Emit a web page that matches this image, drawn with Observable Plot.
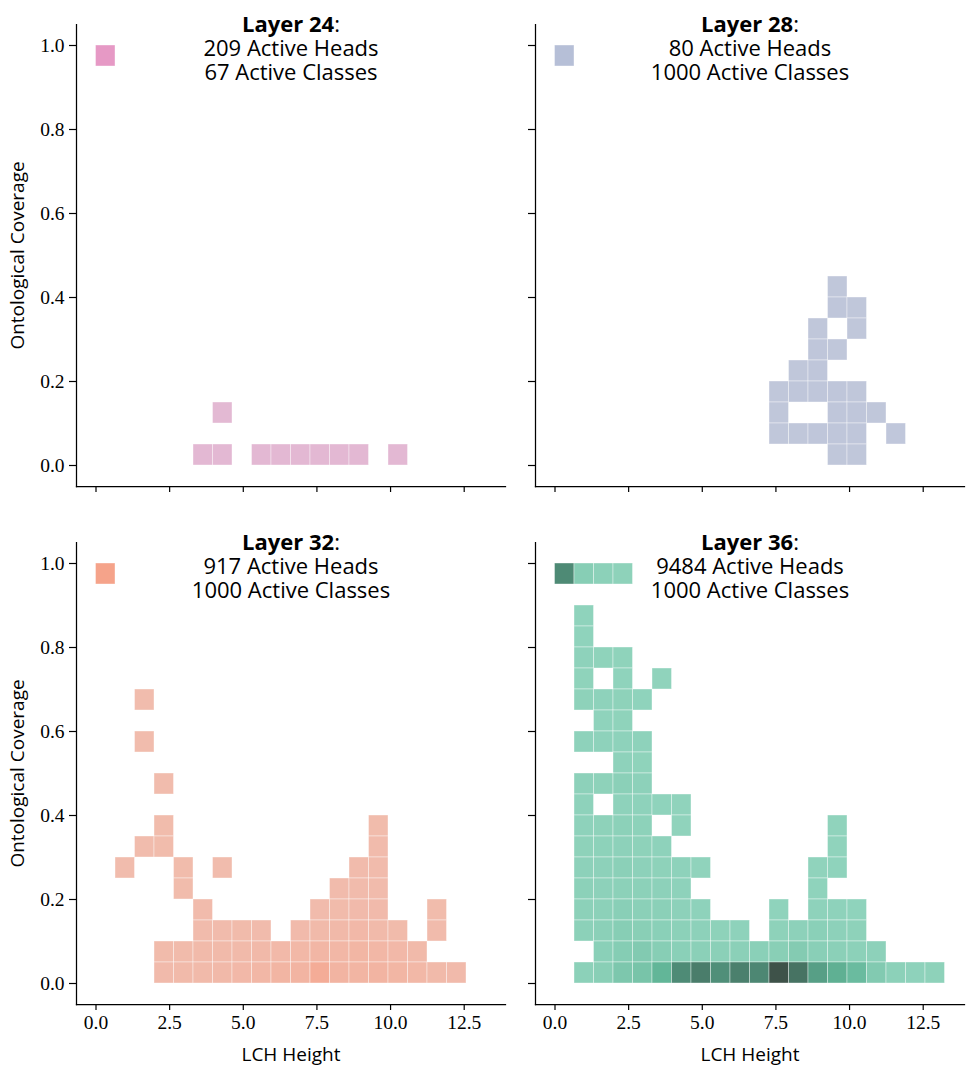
<!DOCTYPE html>
<html><head><meta charset="utf-8">
<script src="https://cdn.jsdelivr.net/npm/d3@7"></script>
<script src="https://cdn.jsdelivr.net/npm/@observablehq/plot@0.6"></script>
<style>
body{margin:0;background:#fff;}
#fig{position:relative;width:969px;height:1071px;background:#fff;overflow:hidden;}
.panel{position:absolute;}
.panel svg{overflow:visible;background:none;}
g[aria-label="x-axis tick label"] text, g[aria-label="y-axis tick label"] text{font-family:"Liberation Serif",serif;font-size:19.5px;fill:#000;}
g[aria-label="x-axis label"] text, g[aria-label="y-axis label"] text{font-family:"Open Sans",sans-serif;font-size:19px;fill:#000;}
g[aria-label="x-axis tick"], g[aria-label="y-axis tick"]{stroke:#000;stroke-width:1.2px;}
</style>
</head><body><div id="fig"></div>
<script>
// ---- data ----
const BIN_W = 0.662;   // LCH height bin width
const BIN_H = 0.05;    // coverage bin height
const layers = [24, 28, 32, 36];
const activeHeads = [209, 80, 917, 9484];
const activeClasses = [67, 1000, 1000, 1000];
const xTicks = [0, 2.5, 5, 7.5, 10, 12.5];
const yTicks = [0, 0.2, 0.4, 0.6, 0.8, 1.0];
const xLabel = "LCH Height";
const yLabel = "Ontological Coverage";

// cells: [height bin index, coverage bin index, head count]
const cells24 = [[0,19,172],[5,0,3],[6,0,4],[6,2,2],[8,0,3],[9,0,4],[10,0,4],[11,0,5],[12,0,4],[13,0,5],[15,0,3]];

const cells28 = [[0,19,15],
 [14,8,2],
 [14,7,3],[15,7,2],
 [13,6,2],[15,6,2],
 [13,5,3],[14,5,2],
 [12,4,2],[13,4,3],
 [11,3,2],[12,3,3],[13,3,3],[14,3,3],[15,3,2],
 [11,2,2],[14,2,3],[15,2,3],[16,2,2],
 [11,1,2],[12,1,2],[13,1,3],[14,1,3],[15,1,3],[17,1,1],
 [14,0,2],[15,0,2]];

const cells32 = [[0,19,125],
 [2,13,1],[2,11,1],[3,9,1],
 [3,7,2],[14,7,2],
 [2,6,1],[3,6,2],[14,6,3],
 [1,5,1],[4,5,2],[6,5,1],[13,5,3],[14,5,4],
 [4,4,2],[12,4,4],[13,4,5],[14,4,5],
 [5,3,3],[11,3,5],[12,3,6],[13,3,8],[14,3,8],[17,3,2],
 [5,2,4],[6,2,5],[7,2,6],[8,2,4],[10,2,8],[11,2,12],[12,2,14],[13,2,18],[14,2,12],[15,2,6],[17,2,3],
 [3,1,6],[4,1,7],[5,1,9],[6,1,10],[7,1,12],[8,1,14],[9,1,16],[10,1,22],[11,1,30],[12,1,24],[13,1,32],[14,1,26],[15,1,18],[16,1,12],
 [3,0,8],[4,0,10],[5,0,12],[6,0,14],[7,0,18],[8,0,26],[9,0,34],[10,0,40],[11,0,80],[12,0,40],[13,0,34],[14,0,40],[15,0,32],[16,0,22],[17,0,10],[18,0,8]];

const cells36 = [[0,19,700],[1,19,60],[2,19,30],[3,19,20],
 [1,17,10],[1,16,10],
 [1,15,15],[2,15,12],[3,15,12],
 [1,14,12],[3,14,10],[5,14,5],
 [1,13,20],[2,13,15],[3,13,20],[4,13,10],
 [2,12,10],[3,12,12],
 [1,11,15],[2,11,15],[3,11,18],[4,11,15],
 [3,10,15],[4,10,12],
 [1,9,25],[2,9,20],[3,9,35],[4,9,25],
 [1,8,15],[3,8,18],[4,8,15],[5,8,10],[6,8,8],
 [1,7,18],[2,7,20],[3,7,30],[4,7,22],[6,7,8],[14,7,6],
 [1,6,20],[2,6,22],[3,6,25],[4,6,20],[5,6,15],[14,6,8],
 [1,5,25],[2,5,25],[3,5,35],[4,5,25],[5,5,20],[6,5,15],[7,5,8],[13,5,8],[14,5,10],
 [1,4,30],[2,4,25],[3,4,30],[4,4,30],[5,4,25],[6,4,15],[13,4,10],
 [1,3,30],[2,3,30],[3,3,45],[4,3,35],[5,3,35],[6,3,25],[7,3,15],[11,3,10],[13,3,15],[14,3,15],[15,3,10],
 [1,2,30],[2,2,35],[3,2,60],[4,2,50],[5,2,40],[6,2,30],[7,2,25],[8,2,20],[9,2,18],[11,2,20],[12,2,25],[13,2,40],[14,2,25],[15,2,20],
 [2,1,40],[3,1,70],[4,1,90],[5,1,60],[6,1,40],[7,1,35],[8,1,35],[9,1,35],[10,1,40],[11,1,50],[12,1,80],[13,1,45],[14,1,35],[15,1,30],[16,1,25],
 [1,0,30],[2,0,50],[3,0,120],[4,0,150],[5,0,280],[6,0,690],[7,0,800],[8,0,650],[9,0,780],[10,0,720],[11,0,1150],[12,0,880],[13,0,500],[14,0,340],[15,0,230],[16,0,90],[17,0,30],[18,0,15],[19,0,20]];

const allCells = [cells24, cells28, cells32, cells36];

// ---- styles ----
const colorScales = [
  {domain: [0, 172], range: ["#e3b9d3", "#e699c5"]},
  {domain: [0, 15], range: ["#c1c8db", "#b6bfd7"]},
  {domain: [0, 125], range: ["#f1bcad", "#f5a38a"]},
  {domain: [0, 280, 690, 1150], range: ["#91d4bd", "#62b698", "#4e8b76", "#3e5249"]}
];
const xDomain = [-0.662, 13.902];
const yDomain = [-0.05, 1.05];
const layout = [
  {left: 0,   top: 0,   width: 515, height: 510, mr: 10, mb: 24, showX: false, showY: true},
  {left: 459, top: 0,   width: 510, height: 510, mr: 5,  mb: 24, showX: false, showY: false},
  {left: 0,   top: 518, width: 515, height: 553, mr: 10, mb: 67, showX: true,  showY: true},
  {left: 459, top: 518, width: 510, height: 553, mr: 5,  mb: 67, showX: true,  showY: false}
];

const fig = document.getElementById("fig");
const fmt = d3.format(".1f");

layers.forEach((layer, i) => {
  const L = layout[i];
  const data = allCells[i].map(([hx, cy, n]) => ({
    x1: hx * BIN_W, x2: (hx + 1) * BIN_W, y1: cy * BIN_H, y2: (cy + 1) * BIN_H, n
  }));
  const boldPart = `Layer ${layer}`;
  const title = `${boldPart}:\n${activeHeads[i]} Active Heads\n${activeClasses[i]} Active Classes`;
  const chart = Plot.plot({
    width: L.width, height: L.height,
    marginLeft: 76, marginRight: L.mr, marginTop: 24, marginBottom: L.mb,
    style: {background: "none", color: "black", overflow: "visible"},
    x: {domain: xDomain, ticks: xTicks, tickFormat: L.showX ? fmt : () => "", tickSize: 6, tickPadding: 5,
        label: L.showX ? xLabel : null, labelAnchor: "center", labelArrow: "none", labelOffset: 56, line: true},
    y: {domain: yDomain, ticks: yTicks, tickFormat: L.showY ? fmt : () => "", tickSize: 7, tickPadding: 5,
        label: L.showY ? yLabel : null, labelAnchor: "center", labelArrow: "none", labelOffset: 66, line: true},
    color: {type: "linear", domain: colorScales[i].domain, range: colorScales[i].range, clamp: true},
    marks: [
      Plot.rect(data, {x1: "x1", x2: "x2", y1: "y1", y2: "y2", fill: "n", stroke: "white", strokeWidth: 0.7, strokeOpacity: 0.55}),
      Plot.text([title], {text: d => d, frameAnchor: "top", lineAnchor: "bottom", lineHeight: 24 / 22,
        dy: 55, fontFamily: "Open Sans, sans-serif", fontSize: 22, fill: "#000"})
    ]
  });
  // bold "Layer N" followed by a regular colon
  d3.select(chart).selectAll("tspan").filter(function() { return this.textContent === `${boldPart}:`; }).each(function() {
    const t = d3.select(this);
    t.text("");
    t.append("tspan").attr("font-weight", "bold").text(boldPart);
    t.append("tspan").text(":");
  });
  d3.select(chart).selectAll("line").attr("stroke", "#000").attr("stroke-width", 1.25);
  const div = document.createElement("div");
  div.className = "panel";
  div.style.left = L.left + "px";
  div.style.top = L.top + "px";
  div.appendChild(chart);
  fig.appendChild(div);
});
</script>
</body></html>
